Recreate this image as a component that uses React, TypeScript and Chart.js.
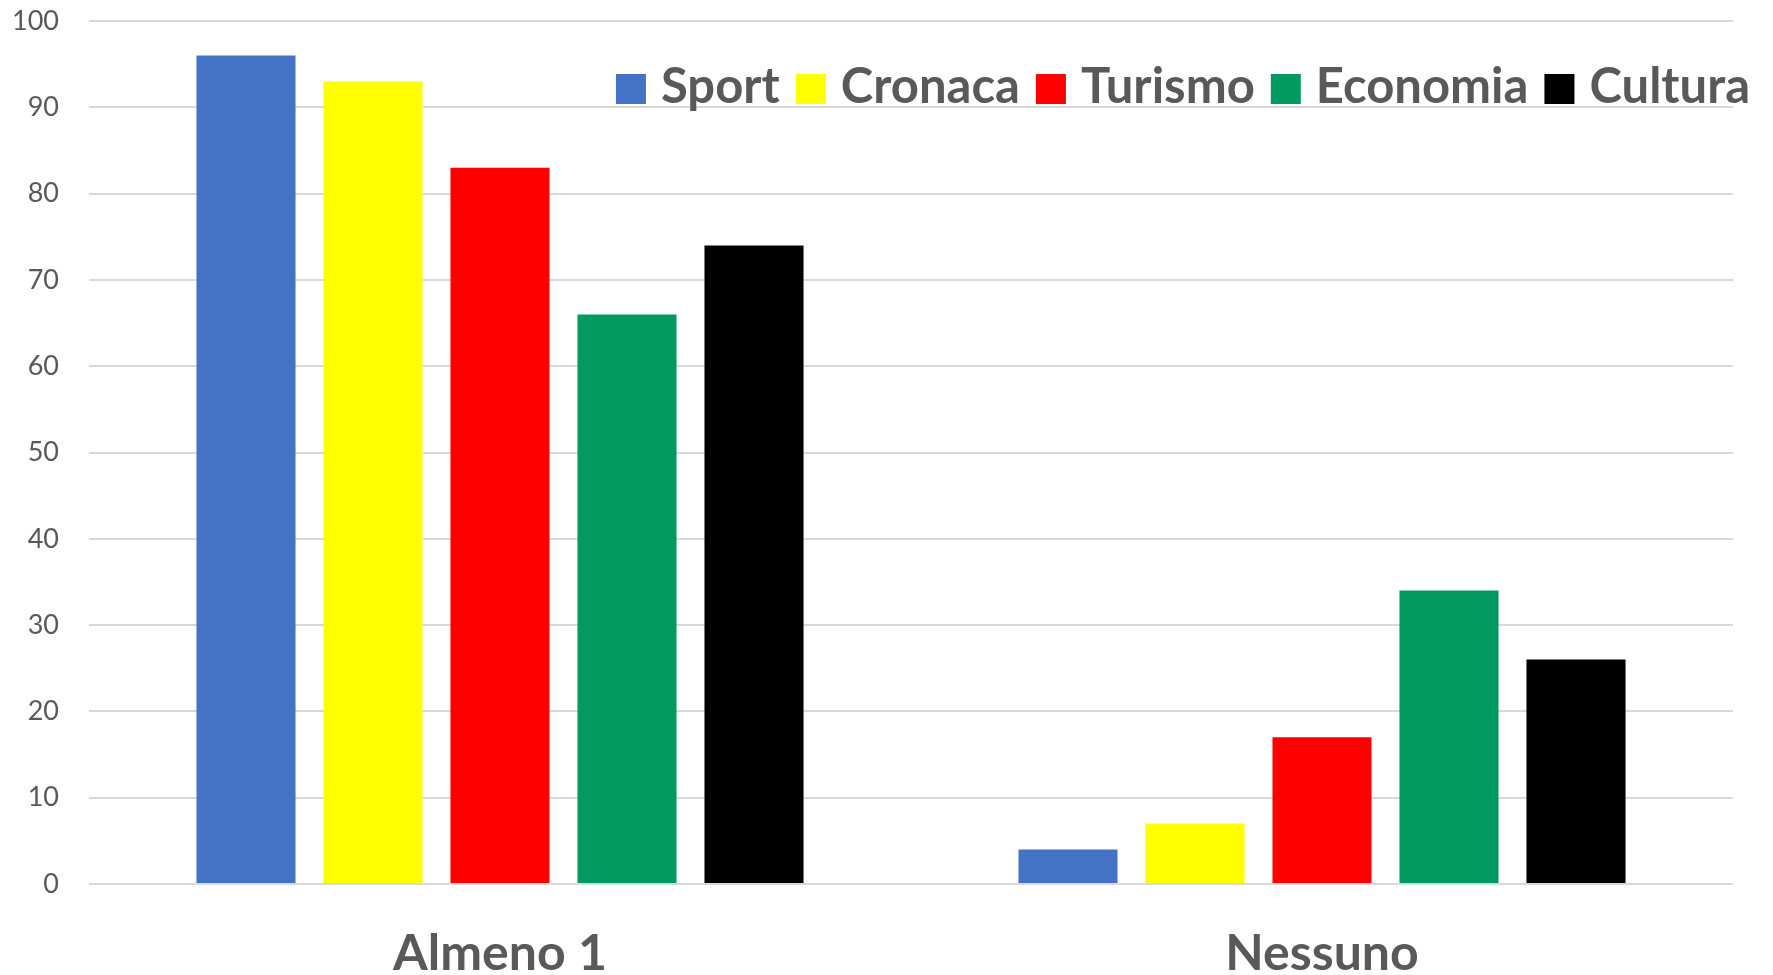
import React, { useEffect, useRef } from "react";
import { Chart, registerables } from "chart.js";

Chart.register(...registerables);

const categories = ["Almeno 1", "Nessuno"];
const seriesNames = ["Sport", "Cronaca", "Turismo", "Economia", "Cultura"];
const sportValues = [96, 4];
const cronacaValues = [93, 7];
const turismoValues = [83, 17];
const economiaValues = [66, 34];
const culturaValues = [74, 26];
const seriesColors = ["#4472C4", "#FFFF00", "#FF0000", "#00995F", "#000000"];
const yTicks = [0, 10, 20, 30, 40, 50, 60, 70, 80, 90, 100];

const topLegend = {
  id: "topLegend",
  afterDatasetsDraw(chart: any) {
    const ctx = chart.ctx;
    const ds = chart.data.datasets;
    const box = 30;
    const gapText = 15;
    const gapItem = 16;
    const rightEdge = 1750;
    const baseline = 103;
    ctx.save();
    ctx.font = "bold 49px Lato";
    ctx.textBaseline = "alphabetic";
    ctx.textAlign = "left";
    const widths = ds.map((d: any) => ctx.measureText(d.label).width);
    let total = 0;
    widths.forEach((w: number, i: number) => {
      total += box + gapText + w + (i < widths.length - 1 ? gapItem : 0);
    });
    let x = rightEdge - total;
    ds.forEach((d: any, i: number) => {
      ctx.fillStyle = d.backgroundColor;
      ctx.fillRect(x, baseline - 29, box, box);
      x += box + gapText;
      ctx.fillStyle = "#595959";
      ctx.fillText(d.label, x, baseline);
      x += widths[i] + gapItem;
    });
    ctx.restore();
  },
};

export default function App() {
  const ref = useRef<HTMLCanvasElement | null>(null);
  useEffect(() => {
    if (!ref.current) return;
    const all = [sportValues, cronacaValues, turismoValues, economiaValues, culturaValues];
    const chart = new Chart(ref.current, {
      type: "bar",
      data: {
        labels: categories,
        datasets: seriesNames.map((name, i) => ({
          label: name,
          data: all[i],
          backgroundColor: seriesColors[i],
          borderWidth: 0,
          categoryPercentage: 0.7725,
          barPercentage: 0.78,
        })),
      },
      options: {
        animation: false,
        responsive: true,
        maintainAspectRatio: false,
        layout: { padding: { top: 21, right: 40, left: 0, bottom: 0 } },
        plugins: {
          tooltip: { enabled: false },
          legend: { display: false },
        },
        scales: {
          x: {
            grid: { display: false },
            border: { display: false },
            ticks: {
              color: "#595959",
              padding: 32,
              font: { family: "Lato", size: 50, weight: "bold" },
            },
            afterFit(scale: any) {
              scale.height = 91;
            },
          },
          y: {
            min: 0,
            max: 100,
            afterBuildTicks(scale: any) {
              scale.ticks = yTicks.map((v) => ({ value: v }));
            },
            grid: { color: "#D9D9D9", lineWidth: 2, drawTicks: false },
            border: { display: false },
            ticks: {
              color: "#595959",
              padding: 30,
              font: { family: "Lato", size: 27 },
            },
            afterFit(scale: any) {
              scale.width = 89;
              scale.paddingTop = 0;
              scale.paddingBottom = 0;
            },
          },
        },
      },
      plugins: [topLegend],
    });
    return () => chart.destroy();
  }, []);
  return (
    <div style={{ position: "fixed", left: 0, top: 0, width: 1773, height: 975, background: "#fff" }}>
      <canvas ref={ref} />
    </div>
  );
}
